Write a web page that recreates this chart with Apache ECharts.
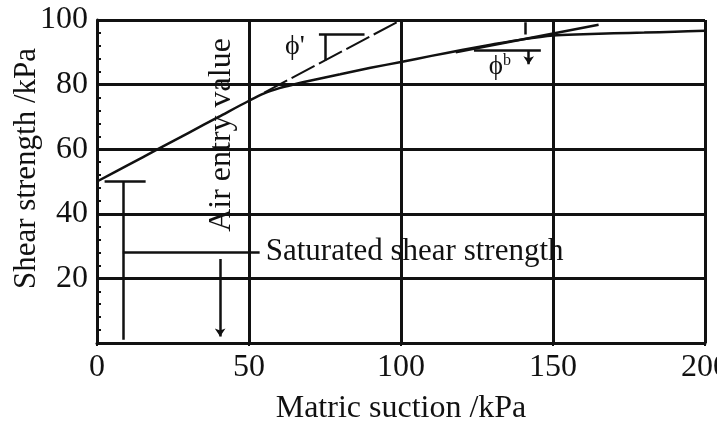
<!DOCTYPE html>
<html>
<head>
<meta charset="utf-8">
<script src="https://cdn.jsdelivr.net/npm/echarts@6/dist/echarts.min.js"></script>
<style>
  html, body { margin: 0; padding: 0; background: #fff; }
  #chart { width: 717px; height: 426px; }
</style>
</head>
<body>
<div id="chart"></div>
<script>
// Shear strength envelope of an unsaturated soil against matric suction
const suction  = [0, 10, 20, 30, 40, 50, 55, 60, 65, 70, 80, 90, 100, 110, 120, 130, 140, 150, 160, 170, 180, 190, 200];
const strength = [50, 55, 60, 65, 70, 75, 77.3, 78.9, 80.1, 81.2, 83.2, 85.2, 87.0, 88.9, 90.7, 92.4, 94.0, 95.2, 95.6, 95.9, 96.1, 96.4, 96.7];

// phi' line (extension of the saturated envelope) and phi^b tangent
const phiPrimeLine = [[55, 77.5], [100, 100]];
const phiBLine = [[118, 90.0], [165, 98.5]];

// leader / bracket segments
const segments = [
  [[73, 95.5], [88, 95.5]],
  [[75, 95.5], [75, 87.5]],
  [[124, 90.7], [146, 90.7]],
  [[141, 99.3], [141, 95.5]],
  [[2.5, 50], [16, 50]],
  [[8.5, 50], [8.5, 1]],
  [[8.5, 28.2], [53.5, 28.2]],
  [[40.5, 20], [50, 20]]
];
const arrows = [
  [[40.5, 26], [40.5, 2]],
  [[142, 90.7], [142, 86.3]]
];

const xTicks = [0, 50, 100, 150, 200];
const yTicks = [0, 20, 40, 60, 80, 100];

const serif = 'Liberation Serif';
const ink = '#111';

const chart = echarts.init(document.getElementById('chart'));
chart.setOption({
  animation: false,
  backgroundColor: '#fff',
  grid: { left: 97, right: 12, top: 20, bottom: 83, containLabel: false, outerBoundsMode: 'none' },
  xAxis: {
    type: 'value',
    min: xTicks[0], max: xTicks[xTicks.length - 1], interval: 50,
    name: 'Matric suction /kPa',
    nameLocation: 'middle', nameGap: 50, nameMoveOverlap: false,
    nameTextStyle: { fontFamily: serif, fontSize: 32, color: ink },
    axisLine: { lineStyle: { color: ink, width: 3 } },
    axisTick: { show: true, length: 3, lineStyle: { color: ink, width: 2 } },
    axisLabel: { fontFamily: serif, fontSize: 32, color: ink, margin: 9 },
    splitLine: { show: true, lineStyle: { color: ink, width: 3 } }
  },
  yAxis: {
    type: 'value',
    min: yTicks[0], max: yTicks[yTicks.length - 1], interval: 20,
    name: 'Shear strength /kPa',
    nameLocation: 'middle', nameGap: 55, nameRotate: 90, nameMoveOverlap: false,
    nameTextStyle: { fontFamily: serif, fontSize: 31, color: ink, padding: [0, 0, 0, 26] },
    axisLine: { lineStyle: { color: ink, width: 3 } },
    axisTick: { show: true, inside: true, length: 4, lineStyle: { color: ink, width: 2 } },
    minorTick: { show: true, splitNumber: 5, length: 4, lineStyle: { color: ink, width: 2 } },
    axisLabel: { fontFamily: serif, fontSize: 32, color: ink, margin: 9, showMinLabel: false },
    splitLine: { show: true, lineStyle: { color: ink, width: 3 } }
  },
  series: [
    {
      type: 'line',
      data: suction.map((s, i) => [s, strength[i]]),
      showSymbol: false, smooth: 0.3,
      lineStyle: { color: ink, width: 2.5 }
    },
    {
      type: 'line', data: phiPrimeLine, showSymbol: false,
      lineStyle: { color: ink, width: 2, type: [26, 5] }
    },
    {
      type: 'line', data: phiBLine, showSymbol: false,
      lineStyle: { color: ink, width: 2.5 }
    },
    {
      type: 'lines', coordinateSystem: 'cartesian2d',
      data: segments.map(c => ({ coords: c })),
      symbol: 'none',
      lineStyle: { color: ink, width: 2.5, opacity: 1 }
    },
    {
      type: 'lines', coordinateSystem: 'cartesian2d',
      data: arrows.map(c => ({ coords: c })),
      symbol: ['none', 'arrow'], symbolSize: 8,
      lineStyle: { color: ink, width: 2.5, opacity: 1 }
    },
    {
      type: 'scatter', symbolSize: 0, silent: true,
      itemStyle: { opacity: 1 },
      label: { show: true, fontFamily: serif, color: ink, formatter: '{b}' },
      data: [
        { name: 'Saturated shear strength', value: [55.5, 28.2],
          label: { position: 'right', distance: 0, fontSize: 31 } },
        { name: 'Air entry value', value: [41.1, 64.4],
          label: { position: 'inside', rotate: 90, fontSize: 32, align: 'center', verticalAlign: 'middle' } },
        { name: 'ϕ\'', value: [65.1, 91.6],
          label: { position: 'inside', fontSize: 28, align: 'center', verticalAlign: 'middle' } },
        { name: 'phib', value: [132.5, 85.4],
          label: { position: 'inside', align: 'center', verticalAlign: 'middle',
                   formatter: '{p|ϕ}{s|b}',
                   rich: { p: { fontFamily: serif, fontSize: 27, color: ink },
                           s: { fontFamily: serif, fontSize: 16, color: ink, verticalAlign: 'top', padding: [0, 0, 12, 0] } } } }
      ]
    }
  ]
});
</script>
</body>
</html>
